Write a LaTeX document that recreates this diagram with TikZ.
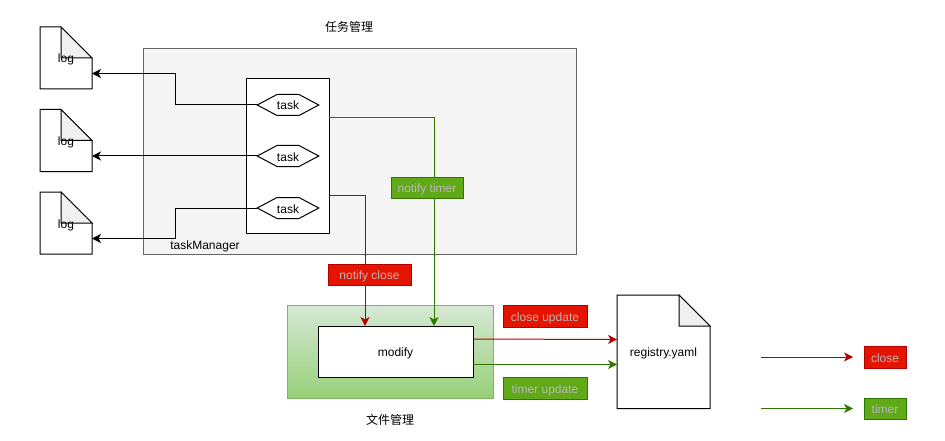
\documentclass[tikz,border=0pt]{standalone}
\usepackage{fontspec}
\setmainfont{Liberation Sans}
\newfontfamily\cjk{Noto Sans CJK SC}
\usetikzlibrary{arrows.meta,shapes.symbols}
\definecolor{redfill}{HTML}{E51400}
\definecolor{redline}{HTML}{B20000}
\definecolor{greenfill}{HTML}{60A917}
\definecolor{greenline}{HTML}{2D7600}
\definecolor{tagtext}{HTML}{B8B8B8}
\definecolor{grouptop}{HTML}{D5E8D4}
\definecolor{groupbottom}{HTML}{97D077}
\definecolor{groupline}{HTML}{82B366}
\tikzset{
	every node/.style = {font=\fontsize{12}{14}\selectfont, inner sep=0pt, outer sep=0pt, text height=10pt, text depth=0pt},
	plainbox/.style = {draw=black, fill=white, line width=1pt},
	taskhex/.style = {plainbox, signal, signal to=east and west, signal pointer angle=56, minimum width=54pt, minimum height=21pt},
	redtag/.style = {fill=redfill, draw=redline, text=tagtext, minimum height=21.5pt},
	greentag/.style = {fill=greenfill, draw=greenline, text=tagtext, minimum height=21.5pt},
	arrowtip/.style = {-{Stealth[length=9pt,width=9pt,inset=2.5pt]}, line width=1pt},
	redarrow/.style = {arrowtip, draw=redline},
	greenarrow/.style = {arrowtip, draw=greenline},
	blackarrow/.style = {arrowtip, draw=black}
}
% name, left, top, width, height, fold, text
\newcommand{\docnode}[7]{
	\node [minimum width=#4pt, minimum height=#5pt] (#1) at (#2+#4/2,#3+#5/2) {};
	\draw [plainbox] (#1.south west) -- (#1.north west) -- ([xshift=-#6pt]#1.north east) -- ([yshift=-#6pt]#1.north east) -- (#1.south east) -- cycle;
	\draw [plainbox, fill=black!6] ([xshift=-#6pt]#1.north east) -- ([xshift=-#6pt,yshift=-#6pt]#1.north east) -- ([yshift=-#6pt]#1.north east) -- cycle;
	\node (#1text) at (#1) {#7};
}
\begin{document}
\begin{tikzpicture}[x=1pt, y=-1pt]
	\useasboundingbox (0,0) rectangle (945,441);
	% task manager group
	\node [fill=black!4, draw=black!60, minimum width=433pt, minimum height=206pt] (taskgroup) at (359.5,151) {};
	\node (tasktitle) at (349,27) {\cjk 任务管理};
	\node [plainbox, minimum width=83pt, minimum height=154pt] (taskbox) at (287.5,156) {};
	\node (managerlabel) at (205,244) {taskManager};
	\node [taskhex] (task1) at (288,105) {task};
	\node [taskhex] (task2) at (288,156) {task};
	\node [taskhex] (task3) at (288,208) {task};
	% log files
	\foreach \n/\y in {1/27,2/109.5,3/192}{
	\docnode{log\n}{40}{\y}{52}{62}{31}{log}
	\coordinate (log\n in) at (92,\y+46.5);
	}
	\draw [blackarrow] (task1.west) -- (175,105) -- (175,73.5) -- (log1in);
	\draw [blackarrow] (task2.west) -- (log2in);
	\draw [blackarrow] (task3.west) -- (175,208) -- (175,238.5) -- (log3in);
	% file manager group
	\node [top color=grouptop, bottom color=groupbottom, draw=groupline, minimum width=206pt, minimum height=93pt] (filegroup) at (390.5,352) {};
	\node (filetitle) at (390,419) {\cjk 文件管理};
	\node [plainbox, minimum width=155pt, minimum height=51pt] (modify) at (395.5,351.5) {modify};
	\docnode{registry}{617}{295}{93}{113.5}{31}{registry.yaml}
	\coordinate (regclose) at (617,339.5);
	\coordinate (regtimer) at (617,364.5);
	% notifications and updates
	\draw [redarrow] ([yshift=-39pt]taskbox.east) -| ([xshift=-30.5pt]modify.north);
	\draw [greenarrow] ([yshift=38pt]taskbox.east) -| ([xshift=38.5pt]modify.north);
	\draw [redarrow] ([yshift=12.5pt]modify.east) -- (regclose);
	\draw [greenarrow] ([yshift=-13pt]modify.east) -- (regtimer);
	\node [greentag, minimum width=72pt] (notifytimer) at (427,187.5) {notify timer};
	\node [redtag, minimum width=83pt] (notifyclose) at (369.5,274.5) {notify close};
	\node [redtag, minimum width=84pt] (closeupdate) at (545,316) {close update};
	\node [greentag, minimum width=84pt] (timerupdate) at (545,388) {timer update};
	% legend
	\node [redtag, minimum width=42pt] (legendclose) at (885,357) {close};
	\node [greentag, minimum width=42pt] (legendtimer) at (885,408.5) {timer};
	\coordinate (closefrom) at (761,357);
	\coordinate (closeto) at (853,357);
	\coordinate (timerfrom) at (761,408.5);
	\coordinate (timerto) at (853,408.5);
	\draw [redarrow] (closefrom) -- (closeto);
	\draw [greenarrow] (timerfrom) -- (timerto);
\end{tikzpicture}
\end{document}
